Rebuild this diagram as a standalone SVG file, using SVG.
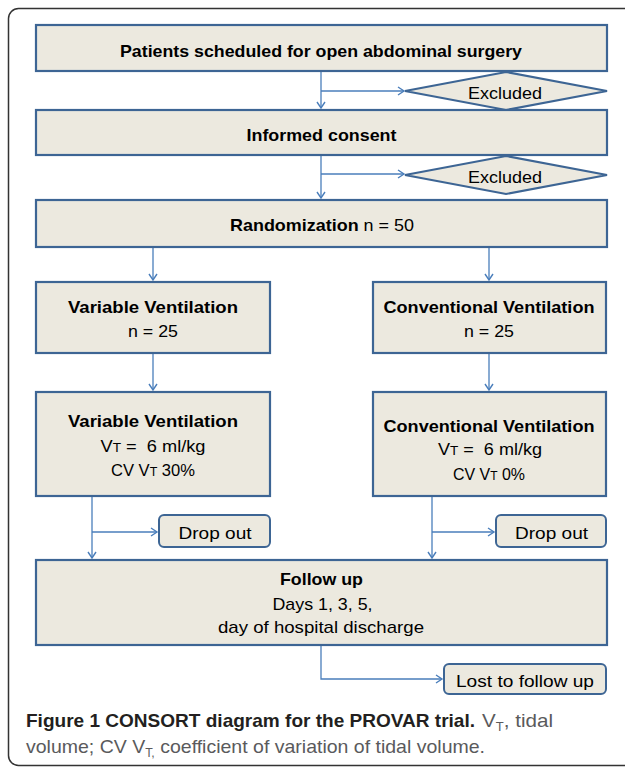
<svg xmlns="http://www.w3.org/2000/svg" width="625" height="767" viewBox="0 0 625 767">
<defs>
<style>
.box{fill:#ece9df;stroke:#3d6594;stroke-width:2.2}
.rbox{fill:#ece9df;stroke:#3d6594;stroke-width:2}
.con{fill:none;stroke:#4a7ebb;stroke-width:1.3}
text{font-family:"Liberation Sans",Arial,sans-serif;font-size:17px;fill:#000;text-anchor:middle;white-space:pre}
.b{font-weight:bold}
.s16{font-size:16px}
.sc{font-size:12px}
.cap{text-anchor:start;font-size:19px;fill:#5a5a5c}
.capb{font-weight:bold;fill:#231f20}
</style>
<marker id="arr" markerWidth="10" markerHeight="10" refX="8" refY="5" orient="auto" markerUnits="userSpaceOnUse">
<path d="M2,1 L8,5 L2,9" fill="none" stroke="#4a7ebb" stroke-width="1.4"/>
</marker>
</defs>
<rect x="8.5" y="8.5" width="660" height="757" rx="10" fill="none" stroke="#333" stroke-width="1.5"/>

<g id="connectors">
<path class="con" d="M321,71 V108" marker-end="url(#arr)"/>
<path class="con" d="M321,91 H404" marker-end="url(#arr)"/>
<path class="con" d="M321,155 V198" marker-end="url(#arr)"/>
<path class="con" d="M321,174 H404" marker-end="url(#arr)"/>
<path class="con" d="M153,247 V280" marker-end="url(#arr)"/>
<path class="con" d="M489,247 V280" marker-end="url(#arr)"/>
<path class="con" d="M153,353 V390" marker-end="url(#arr)"/>
<path class="con" d="M489,353 V390" marker-end="url(#arr)"/>
<path class="con" d="M92,496 V558" marker-end="url(#arr)"/>
<path class="con" d="M92,532 H157" marker-end="url(#arr)"/>
<path class="con" d="M432,496 V558" marker-end="url(#arr)"/>
<path class="con" d="M432,532 H494" marker-end="url(#arr)"/>
<path class="con" d="M321,645 V679 H442" marker-end="url(#arr)"/>
</g>

<g id="patients">
<rect class="box" x="36" y="25" width="571" height="46"/>
<text class="b" x="321" y="57" textLength="402" lengthAdjust="spacingAndGlyphs">Patients scheduled for open abdominal surgery</text>
</g>
<g id="excluded1">
<polygon class="box" points="405,91 506,72 607,91 506,110"/>
<text x="505" y="99" textLength="74" lengthAdjust="spacingAndGlyphs">Excluded</text>
</g>
<g id="consent">
<rect class="box" x="36" y="110" width="571" height="45"/>
<text class="b" x="321.5" y="141" textLength="150" lengthAdjust="spacingAndGlyphs">Informed consent</text>
</g>
<g id="excluded2">
<polygon class="box" points="405,175 506,156 607,175 506,194"/>
<text x="505" y="183" textLength="74" lengthAdjust="spacingAndGlyphs">Excluded</text>
</g>
<g id="randomization">
<rect class="box" x="36" y="200" width="571" height="47"/>
<text x="322" y="231" textLength="184" lengthAdjust="spacingAndGlyphs"><tspan class="b">Randomization</tspan> n = 50</text>
</g>
<g id="var1">
<rect class="box" x="36" y="282" width="234" height="71"/>
<text class="b" x="153" y="313" textLength="170" lengthAdjust="spacingAndGlyphs">Variable Ventilation</text>
<text x="153" y="337" textLength="50" lengthAdjust="spacingAndGlyphs">n = 25</text>
</g>
<g id="conv1">
<rect class="box" x="373" y="282" width="233" height="71"/>
<text class="b" x="489" y="313" textLength="211" lengthAdjust="spacingAndGlyphs">Conventional Ventilation</text>
<text x="489" y="337" textLength="50" lengthAdjust="spacingAndGlyphs">n = 25</text>
</g>
<g id="var2">
<rect class="box" x="36" y="392" width="234" height="104"/>
<text class="b" x="153" y="427" textLength="170" lengthAdjust="spacingAndGlyphs">Variable Ventilation</text>
<text class="s16" x="153" y="452" textLength="105" lengthAdjust="spacingAndGlyphs">V<tspan class="sc">T</tspan> =  6 ml/kg</text>
<text class="s16" x="153" y="476" textLength="84" lengthAdjust="spacingAndGlyphs">CV V<tspan class="sc">T</tspan> 30%</text>
</g>
<g id="conv2">
<rect class="box" x="373" y="392" width="233" height="104"/>
<text class="b" x="489" y="432" textLength="211" lengthAdjust="spacingAndGlyphs">Conventional Ventilation</text>
<text class="s16" x="490" y="455" textLength="104" lengthAdjust="spacingAndGlyphs">V<tspan class="sc">T</tspan> =  6 ml/kg</text>
<text class="s16" x="489" y="480" textLength="72" lengthAdjust="spacingAndGlyphs">CV V<tspan class="sc">T</tspan> 0%</text>
</g>
<g id="dropout1">
<rect class="rbox" x="159" y="515" width="111" height="32" rx="5"/>
<text x="215" y="539" textLength="73" lengthAdjust="spacingAndGlyphs">Drop out</text>
</g>
<g id="dropout2">
<rect class="rbox" x="496" y="515" width="110" height="32" rx="5"/>
<text x="551.5" y="539" textLength="73" lengthAdjust="spacingAndGlyphs">Drop out</text>
</g>
<g id="followup">
<rect class="box" x="36" y="560" width="571" height="85"/>
<text class="b" x="321.5" y="585" textLength="83" lengthAdjust="spacingAndGlyphs">Follow up</text>
<text x="322.5" y="610" textLength="100" lengthAdjust="spacingAndGlyphs">Days 1, 3, 5,</text>
<text x="321" y="633" textLength="206" lengthAdjust="spacingAndGlyphs">day of hospital discharge</text>
</g>
<g id="lost">
<rect class="rbox" x="444" y="664" width="162" height="30" rx="5"/>
<text x="525" y="687" textLength="138" lengthAdjust="spacingAndGlyphs">Lost to follow up</text>
</g>

<g id="caption">
<text class="cap capb" x="26" y="727" textLength="449" lengthAdjust="spacingAndGlyphs">Figure 1 CONSORT diagram for the PROVAR trial.</text>
<text class="cap" x="482" y="727" textLength="71" lengthAdjust="spacingAndGlyphs">V<tspan font-size="12" dy="4">T</tspan><tspan dy="-4">, tidal</tspan></text>
<text class="cap" x="26" y="753" textLength="459" lengthAdjust="spacingAndGlyphs">volume; CV V<tspan font-size="12" dy="4">T,</tspan><tspan dy="-4"> coefficient of variation of tidal volume.</tspan></text>
</g>
</svg>
